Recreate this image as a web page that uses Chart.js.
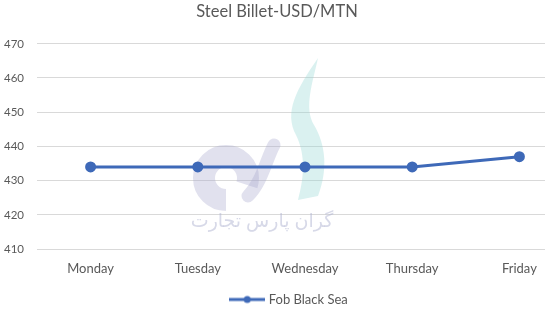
<!DOCTYPE html>
<html>
<head>
<meta charset="utf-8">
<script src="https://cdn.jsdelivr.net/npm/chart.js@4.4.1/dist/chart.umd.min.js"></script>
<style>
  html, body { margin: 0; padding: 0; background: #fff; }
  #wrap { width: 545px; height: 312px; overflow: hidden; position: relative; }
  #chartBox { width: 580px; height: 312px; }
</style>
</head>
<body>
<div id="wrap"><div id="chartBox"><canvas id="steelChart"></canvas></div></div>
<script>
// Data
const days = ['Monday', 'Tuesday', 'Wednesday', 'Thursday', 'Friday'];
const fobBlackSea = [434, 434, 434, 434, 437];
const yTicks = [410, 420, 430, 440, 450, 460, 470];
const chartTitle = 'Steel Billet-USD/MTN';
const seriesName = 'Fob Black Sea';
const watermarkText = 'گران پارس تجارت';

const lineColor = '#3e69b8';
const textColor = '#595959';

// Legend marker: line with a dot
const legendIcon = document.createElement('canvas');
legendIcon.width = 36;
legendIcon.height = 10;
(function () {
    const c = legendIcon.getContext('2d');
    c.strokeStyle = lineColor;
    c.lineWidth = 3;
    c.beginPath();
    c.moveTo(0, 5);
    c.lineTo(36, 5);
    c.stroke();
    c.fillStyle = lineColor;
    c.beginPath();
    c.arc(18, 5, 3.5, 0, Math.PI * 2);
    c.fill();
})();

// Faint logo watermark behind the line
const watermark = {
    id: 'watermark',
    beforeDatasetsDraw(chart) {
        const c = chart.ctx;
        c.save();
        // teal ribbon
        c.fillStyle = 'rgba(150, 215, 212, 0.35)';
        c.beginPath();
        c.moveTo(318, 58);
        c.bezierCurveTo(296, 90, 284, 112, 296, 135);
        c.bezierCurveTo(306, 155, 304, 178, 298, 200);
        c.lineTo(318, 196);
        c.bezierCurveTo(328, 170, 326, 145, 314, 125);
        c.bezierCurveTo(304, 108, 312, 85, 318, 58);
        c.fill();
        // lavender disc and stroke
        c.strokeStyle = 'rgba(170, 170, 205, 0.35)';
        c.lineWidth = 22;
        c.beginPath();
        c.arc(226, 178, 22, Math.PI * 0.5, Math.PI * 2.1);
        c.stroke();
        c.lineWidth = 13;
        c.lineCap = 'round';
        c.beginPath();
        c.moveTo(248, 196);
        c.bezierCurveTo(262, 182, 266, 160, 274, 145);
        c.stroke();
        // company name
        c.fillStyle = 'rgba(175, 180, 210, 0.5)';
        c.font = '19px "Noto Sans", "DejaVu Sans", sans-serif';
        c.textAlign = 'center';
        c.textBaseline = 'middle';
        c.fillText(watermarkText, 262, 222);
        c.restore();
    }
};

// Small position tweaks: title a bit left of centre, legend a bit lower
const nudge = {
    id: 'nudge',
    afterLayout(chart) {
        chart.titleBlock.left -= 13;
        chart.titleBlock.right -= 13;
        chart.legend.top += 4;
        chart.legend.bottom += 4;
    }
};

const ctx = document.getElementById('steelChart').getContext('2d');
const steelChart = new Chart(ctx, {
    type: 'line',
    data: {
        labels: days,
        datasets: [{
            label: seriesName,
            data: fobBlackSea,
            borderColor: lineColor,
            backgroundColor: lineColor,
            borderWidth: 3,
            pointRadius: 4,
            pointHoverRadius: 4,
            tension: 0
        }]
    },
    options: {
        responsive: true,
        maintainAspectRatio: false,
        animation: false,
        layout: { padding: { top: 0, bottom: 0, left: 0, right: 0 } },
        plugins: {
            title: {
                display: true,
                text: chartTitle,
                color: textColor,
                font: { family: 'Lato', size: 16.5, weight: 'normal' },
                padding: { top: 2, bottom: 22 }
            },
            legend: {
                position: 'bottom',
                labels: {
                    usePointStyle: true,
                    pointStyle: legendIcon,
                    pointStyleWidth: 30,
                    color: textColor,
                    font: { family: 'Lato', size: 13 },
                    padding: 4
                }
            },
            tooltip: { enabled: false }
        },
        scales: {
            x: {
                offset: true,
                afterFit(scale) { scale.height = 36; },
                grid: { display: false, drawTicks: false },
                border: { display: false },
                ticks: {
                    color: textColor,
                    font: { family: 'Lato', size: 13 },
                    padding: 12,
                    maxRotation: 0
                }
            },
            y: {
                min: yTicks[0],
                max: yTicks[yTicks.length - 1],
                afterFit(scale) { scale.width = 37; },
                afterBuildTicks(scale) { scale.ticks = yTicks.map(v => ({ value: v })); },
                grid: { color: '#d9d9d9', lineWidth: 1, drawTicks: false },
                border: { display: false },
                ticks: {
                    color: textColor,
                    font: { family: 'Lato', size: 11.5 },
                    padding: 13
                }
            }
        }
    },
    plugins: [watermark, nudge]
});
</script>
</body>
</html>
